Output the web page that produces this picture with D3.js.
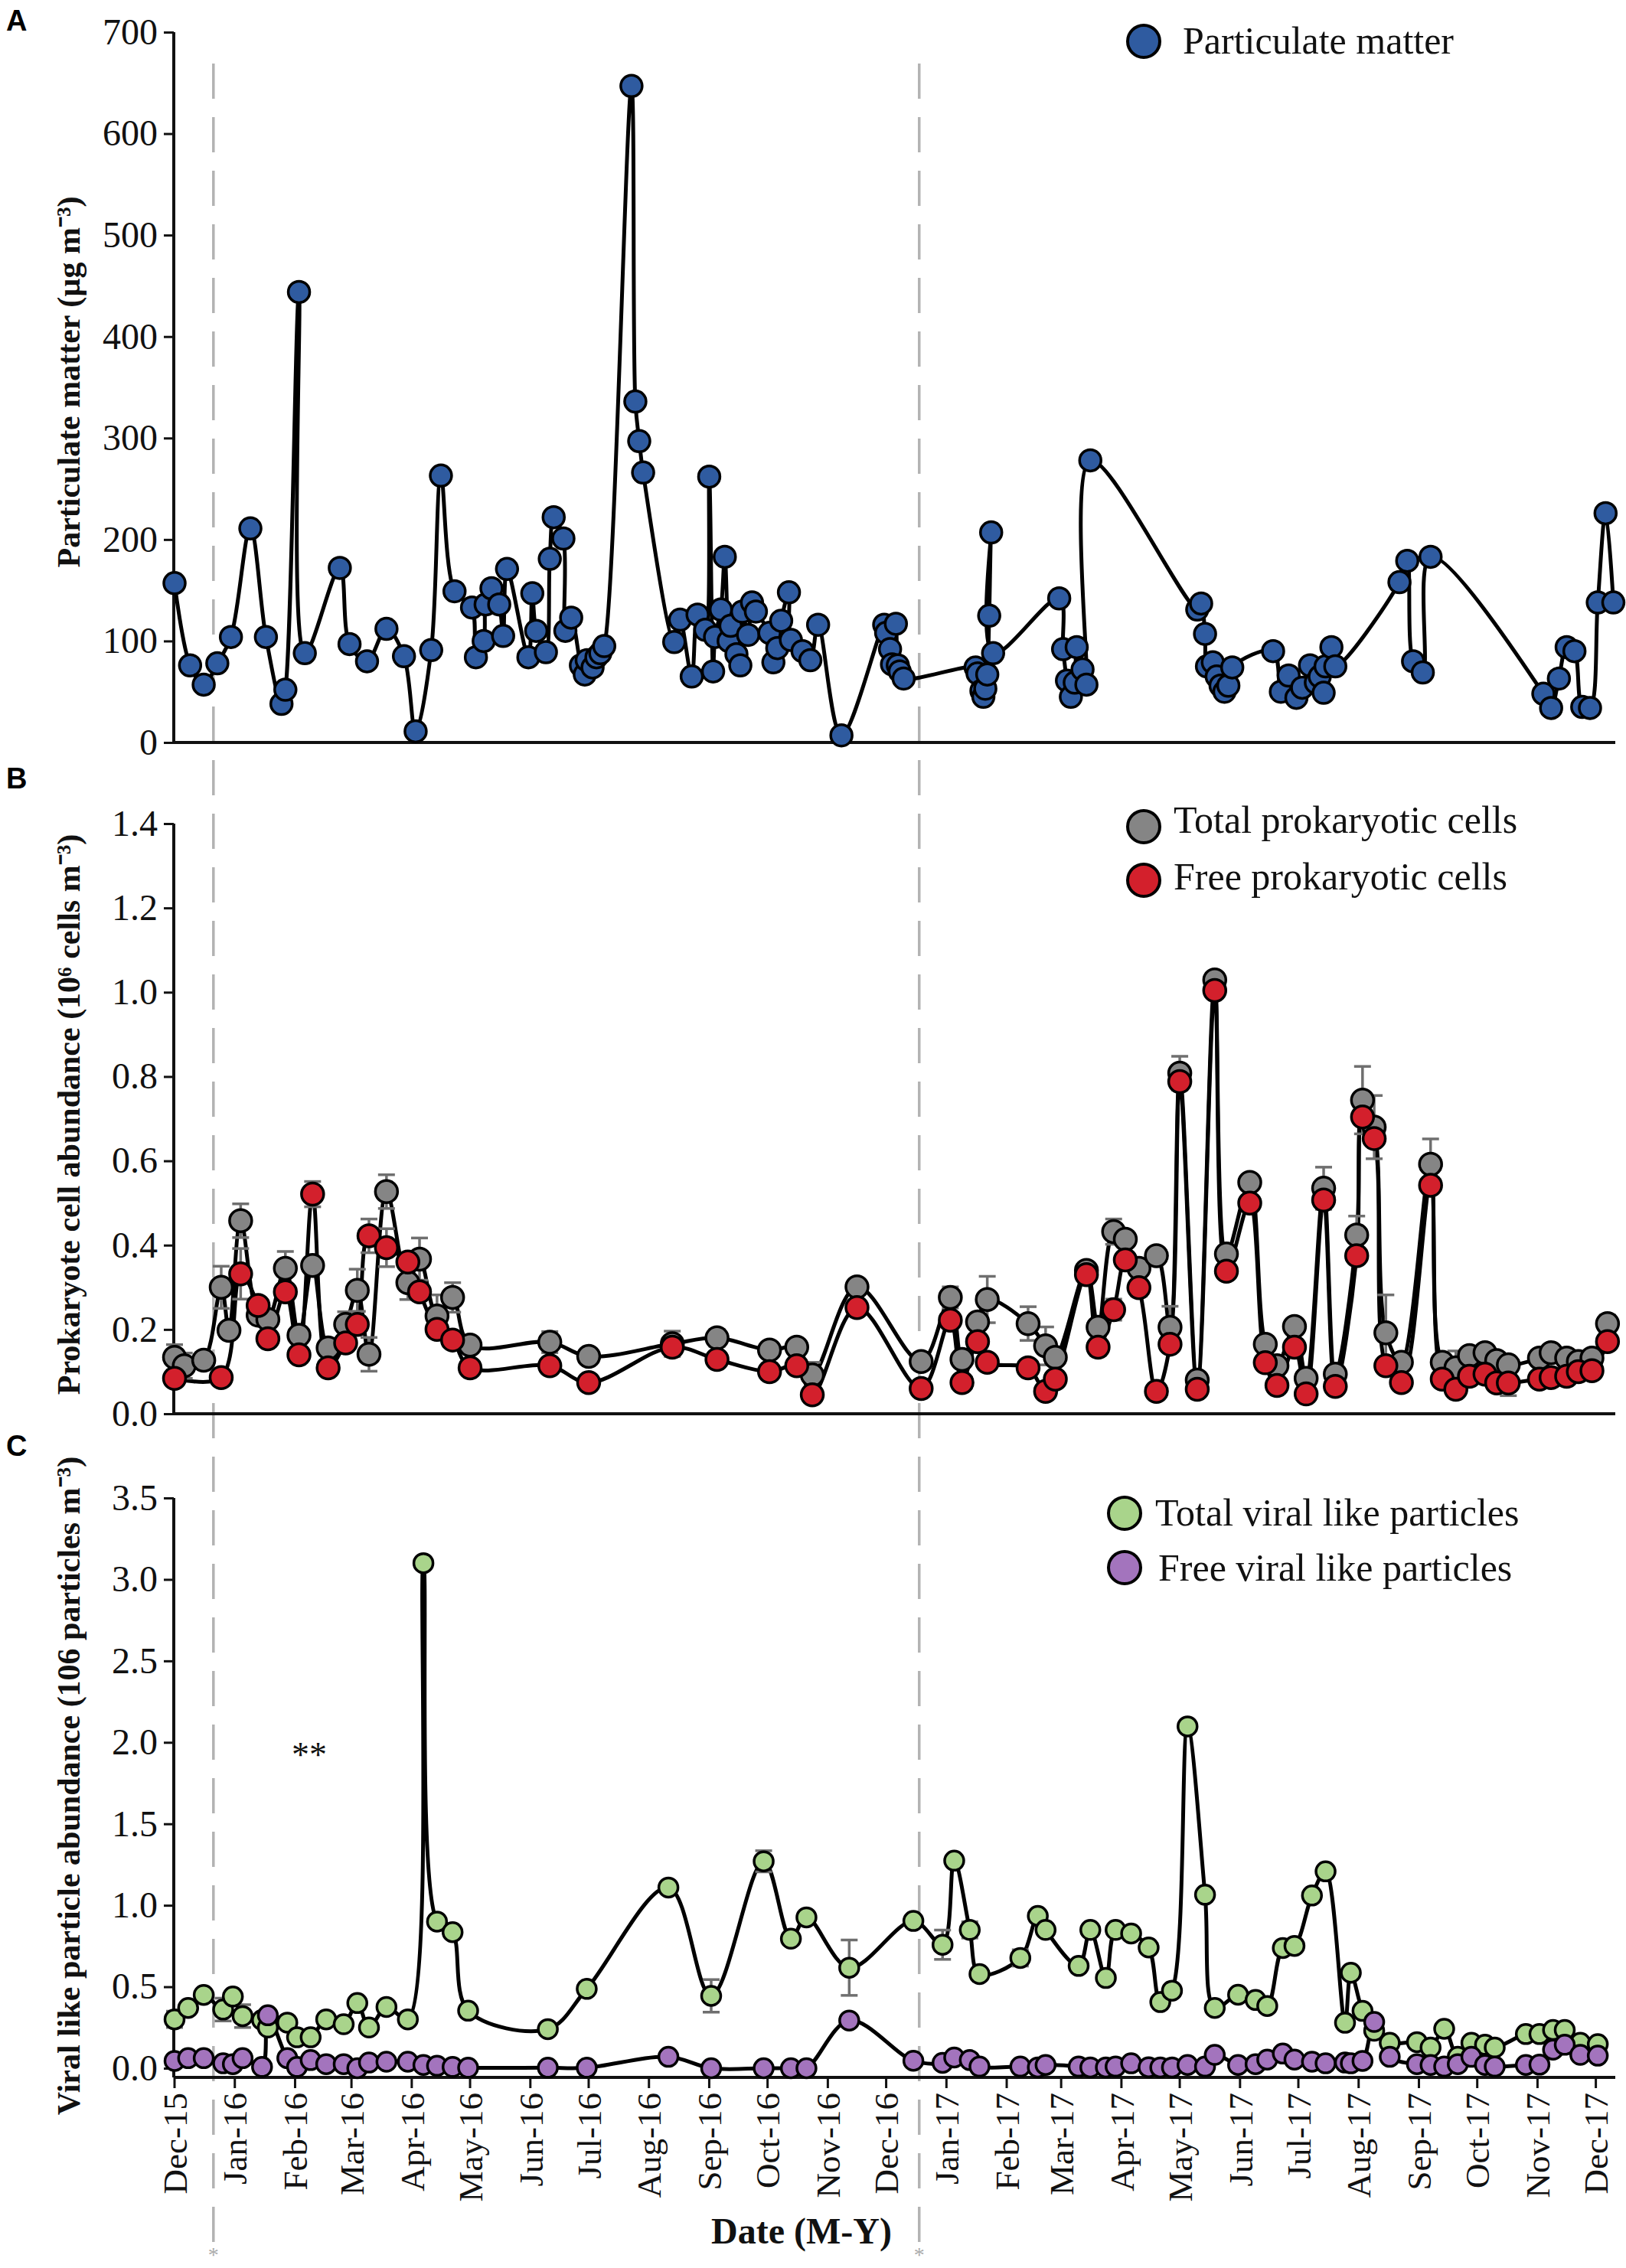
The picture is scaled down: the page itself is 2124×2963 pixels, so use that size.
<!DOCTYPE html>
<html>
<head>
<meta charset="utf-8">
<script src="https://cdn.jsdelivr.net/npm/d3@7"></script>
<style>
  body { margin: 0; background: #fff; }
</style>
</head>
<body>
<div id="chart"></div>
<script>
// ---- panel A : particulate matter (ug m-3)
const pmDates = ["2015-12-01","2015-12-09","2015-12-16","2015-12-23","2015-12-30","2016-01-09","2016-01-17","2016-01-25","2016-01-27","2016-02-03",
  "2016-02-06","2016-02-24","2016-02-29","2016-03-09","2016-03-19","2016-03-28","2016-04-03","2016-04-11","2016-04-16","2016-04-23",
  "2016-05-02","2016-05-04","2016-05-08","2016-05-09","2016-05-12","2016-05-16","2016-05-18","2016-05-20","2016-05-31","2016-06-02",
  "2016-06-04","2016-06-09","2016-06-11","2016-06-13","2016-06-18","2016-06-19","2016-06-22","2016-06-27","2016-06-29","2016-06-30",
  "2016-07-03","2016-07-05","2016-07-07","2016-07-09","2016-07-23","2016-07-25","2016-07-27","2016-07-29","2016-08-14","2016-08-17",
  "2016-08-23","2016-08-26","2016-08-30","2016-09-01","2016-09-03","2016-09-04","2016-09-07","2016-09-09","2016-09-11","2016-09-12",
  "2016-09-15","2016-09-17","2016-09-18","2016-09-21","2016-09-23","2016-09-25","2016-10-02","2016-10-04","2016-10-06","2016-10-08",
  "2016-10-12","2016-10-13","2016-10-19","2016-10-23","2016-10-27","2016-11-08","2016-11-30","2016-12-01","2016-12-03","2016-12-04",
  "2016-12-06","2016-12-07","2016-12-08","2016-12-10","2017-01-16","2017-01-17","2017-01-19","2017-01-20","2017-01-21","2017-01-22",
  "2017-01-23","2017-01-24","2017-01-25","2017-02-28","2017-03-02","2017-03-04","2017-03-06","2017-03-08","2017-03-09","2017-03-12",
  "2017-03-14","2017-03-16","2017-05-10","2017-05-12","2017-05-14","2017-05-15","2017-05-18","2017-05-20","2017-05-22","2017-05-24",
  "2017-05-26","2017-05-28","2017-06-18","2017-06-22","2017-06-26","2017-06-30","2017-07-03","2017-07-07","2017-07-10","2017-07-12",
  "2017-07-14","2017-07-15","2017-07-18","2017-07-20","2017-08-22","2017-08-26","2017-08-29","2017-09-03","2017-09-07","2017-11-04",
  "2017-11-08","2017-11-12","2017-11-16","2017-11-20","2017-11-24","2017-11-28","2017-12-02","2017-12-06","2017-12-10"];
const pmValues = [157,76,57,78,104,211,104,38,52,444,
  88,172,97,80,112,85,11,91,263,149,
  133,84,100,136,152,136,105,171,84,147,
  110,89,181,222,201,110,123,76,67,81,
  74,84,88,95,647,336,297,266,99,121,
  65,126,111,262,70,104,131,183,100,115,
  87,76,129,106,138,129,108,79,93,120,
  148,101,90,81,116,7,116,108,92,77,
  117,76,70,63,74,68,51,45,53,67,
  125,207,88,142,92,61,45,59,94,72,
  57,278,131,137,107,75,79,65,56,50,
  56,74,90,50,66,44,54,76,59,65,
  49,75,94,75,158,179,80,69,183,48,
  34,63,94,90,35,34,138,226,138];

// ---- panel B : prokaryotic cells (10^6 cells m-3)
const cellDates = ["2015-12-01","2015-12-06","2015-12-16","2015-12-25","2015-12-29","2016-01-04","2016-01-13","2016-01-18","2016-01-27","2016-02-03",
  "2016-02-10","2016-02-18","2016-02-27","2016-03-04","2016-03-10","2016-03-19","2016-03-30","2016-04-05","2016-04-14","2016-04-22",
  "2016-05-01","2016-06-11","2016-07-01","2016-08-13","2016-09-05","2016-10-02","2016-10-16","2016-10-24","2016-11-16","2016-12-19",
  "2017-01-03","2017-01-09","2017-01-17","2017-01-22","2017-02-12","2017-02-21","2017-02-26","2017-03-14","2017-03-20","2017-03-28",
  "2017-04-03","2017-04-10","2017-04-19","2017-04-26","2017-05-01","2017-05-10","2017-05-19","2017-05-25","2017-06-06","2017-06-14",
  "2017-06-20","2017-06-29","2017-07-05","2017-07-14","2017-07-20","2017-07-31","2017-08-03","2017-08-09","2017-08-15","2017-08-23",
  "2017-09-07","2017-09-13","2017-09-20","2017-09-27","2017-10-05","2017-10-11","2017-10-17","2017-11-02","2017-11-08","2017-11-16",
  "2017-11-22","2017-11-29","2017-12-07"];
const totalCells = [0.134,0.114,0.127,0.30,0.198,0.458,0.234,0.224,0.345,0.186,
  0.352,0.156,0.212,0.293,0.141,0.527,0.311,0.367,0.232,0.276,
  0.163,0.17,0.136,0.166,0.18,0.151,0.158,0.092,0.301,0.124,
  0.276,0.129,0.218,0.271,0.214,0.161,0.134,0.34,0.205,0.432,
  0.414,0.345,0.375,0.205,0.808,0.08,1.029,0.379,0.549,0.165,
  0.114,0.207,0.084,0.535,0.094,0.424,0.744,0.68,0.192,0.122,
  0.592,0.122,0.109,0.138,0.145,0.126,0.116,0.132,0.145,0.132,
  0.124,0.132,0.214];
const freeCells = [0.084,null,null,0.086,null,0.332,0.257,0.178,0.289,0.14,
  0.521,0.109,0.168,0.212,0.422,0.394,0.36,0.289,0.20,0.175,
  0.109,0.114,0.074,0.158,0.129,0.10,0.114,0.045,0.252,0.06,
  0.222,0.074,0.171,0.122,0.109,0.053,0.082,0.33,0.158,0.247,
  0.365,0.299,0.053,0.165,0.788,0.058,1.004,0.338,0.50,0.121,
  0.067,0.158,0.047,0.507,0.065,0.375,0.704,0.653,0.114,0.074,
  0.542,0.082,0.058,0.089,0.094,0.073,0.073,0.082,0.086,0.089,
  0.10,0.102,0.171];
const totalCellsErr = [0.03,0.03,0,0.05,0,0.04,0,0,0.04,0,
  0,0,0.03,0.05,0.04,0.04,0.04,0.05,0.05,0.035,
  0,0.025,0,0.03,0.02,0,0,0.03,0,0,
  0.025,0,0,0.055,0.04,0.045,0,0.015,0,0.03,
  0,0,0,0.05,0.04,0,0,0,0,0,
  0,0,0,0.05,0,0.045,0.08,0.075,0.09,0,
  0.06,0,0.04,0,0,0,0,0,0,0,
  0,0,0.02];
const freeCellsErr = [0,0,0,0,0,0.06,0,0,0,0,
  0.03,0,0,0,0.04,0.045,0,0,0,0,
  0,0,0,0,0,0,0,0,0,0,
  0,0,0,0,0,0,0,0,0.02,0.025,
  0,0.02,0,0,0,0,0,0,0,0,
  0,0,0,0,0,0,0,0,0,0,
  0,0,0,0,0,0,0.03,0,0,0,
  0,0,0];

// ---- panel C : viral like particles (10^6 particles m-3)
const vlpDates = ["2015-12-01","2015-12-08","2015-12-16","2015-12-26","2015-12-31","2016-01-05","2016-01-15","2016-01-18","2016-01-28","2016-02-02",
  "2016-02-09","2016-02-17","2016-02-26","2016-03-04","2016-03-10","2016-03-19","2016-03-30","2016-04-07","2016-04-14","2016-04-22",
  "2016-04-30","2016-06-10","2016-06-30","2016-08-11","2016-09-02","2016-09-29","2016-10-13","2016-10-21","2016-11-12","2016-12-15",
  "2016-12-30","2017-01-05","2017-01-13","2017-01-18","2017-02-08","2017-02-17","2017-02-21","2017-03-10","2017-03-16","2017-03-24",
  "2017-03-29","2017-04-06","2017-04-15","2017-04-21","2017-04-27","2017-05-05","2017-05-14","2017-05-19","2017-05-31","2017-06-09",
  "2017-06-15","2017-06-23","2017-06-29","2017-07-08","2017-07-15","2017-07-25","2017-07-28","2017-08-03","2017-08-09","2017-08-17",
  "2017-08-31","2017-09-07","2017-09-14","2017-09-21","2017-09-28","2017-10-05","2017-10-10","2017-10-26","2017-11-02","2017-11-09",
  "2017-11-15","2017-11-23","2017-12-02"];
const totalVlp = [0.30,0.37,0.45,0.36,0.44,0.32,0.296,0.25,0.28,0.19,
  0.19,0.30,0.27,0.40,0.25,0.376,0.30,3.10,0.90,0.835,
  0.353,0.24,0.487,1.109,0.444,1.27,0.795,0.926,0.617,0.904,
  0.758,1.274,0.849,0.578,0.677,0.935,0.849,0.628,0.849,0.554,
  0.849,0.827,0.741,0.406,0.476,2.098,1.065,0.37,0.451,0.419,
  0.382,0.738,0.751,1.06,1.208,0.279,0.586,0.352,0.23,0.156,
  0.16,0.127,0.242,0.07,0.156,0.144,0.127,0.21,0.21,0.235,
  0.235,0.156,0.148];
const freeVlp = [0.045,0.062,0.062,0.03,0.025,0.062,0.008,0.325,0.062,0.008,
  0.05,0.025,0.025,0,0.035,0.04,0.04,0.02,0.015,0.008,
  0.003,0.003,0.003,0.07,0,0,0,0,0.293,0.046,
  0.033,0.066,0.05,0.01,0.01,0.005,0.02,0.01,0.005,0.005,
  0.01,0.03,0.006,0.005,0.005,0.02,0.01,0.082,0.02,0.025,
  0.053,0.09,0.053,0.04,0.03,0.035,0.03,0.045,0.284,0.07,
  0.025,0.02,0.01,0.025,0.07,0.02,0.01,0.02,0.022,0.114,
  0.144,0.082,0.077];
const totalVlpErr = [0.05,0,0,0.07,0,0.07,0,0,0,0,
  0,0,0,0,0,0,0,0,0,0,
  0,0,0,0,0.1,0.065,0,0,0.17,0,
  0.09,0,0.05,0,0.05,0,0,0,0,0,
  0,0,0,0,0,0,0,0,0,0,
  0,0,0,0,0,0,0,0,0,0,
  0,0,0,0,0,0,0,0,0,0,
  0,0,0];

const monthTicks = ["2015-12-01","2016-01-01","2016-02-01","2016-03-01","2016-04-01","2016-05-01","2016-06-01","2016-07-01","2016-08-01",
  "2016-09-01","2016-10-01","2016-11-01","2016-12-01","2017-01-01","2017-02-01","2017-03-01","2017-04-01","2017-05-01","2017-06-01",
  "2017-07-01","2017-08-01","2017-09-01","2017-10-01","2017-11-01","2017-12-01"];
const markerDates = ["2015-12-21","2016-12-18"];

// ------------------------------------------------------------
const W = 2124, H = 2963;
const serif = "'Liberation Serif', 'Times New Roman', serif";
const sans = "'Liberation Sans', Arial, sans-serif";
const parse = d3.timeParse("%Y-%m-%d");

const svg = d3.select("#chart").append("svg")
    .attr("width", W).attr("height", H)
    .style("background", "#fff");

const x = d3.scaleTime()
    .domain([parse("2015-12-01"), parse("2017-12-11")])
    .range([228, 2110]);

const yA = d3.scaleLinear().domain([0, 700]).range([970, 42]);
const yB = d3.scaleLinear().domain([0, 1.4]).range([1847, 1076]);
const yC = d3.scaleLinear().domain([0, 3.5]).range([2702, 1957]);

// dashed season markers behind everything
markerDates.forEach(function (d) {
    let xm = x(parse(d));
    svg.append("line")
        .attr("x1", xm).attr("x2", xm).attr("y1", 83).attr("y2", 2932)
        .attr("stroke", "#b3b3b3").attr("stroke-width", 3.5)
        .attr("stroke-dasharray", "46,24");
    svg.append("text")
        .attr("x", xm).attr("y", 2955)
        .attr("text-anchor", "middle")
        .attr("font-family", serif).attr("font-size", 28)
        .attr("fill", "#aaa").text("*");
});

function yAxis(y, ticks, fmt, bottom) {
    let g = svg.append("g")
        .attr("transform", "translate(227,0)")
        .call(d3.axisLeft(y).tickValues(ticks).tickFormat(fmt).tickSizeOuter(0).tickSize(13).tickPadding(8));
    g.attr("font-family", serif).attr("font-size", 48);
    g.select(".domain").remove();
    g.append("line")
        .attr("x1", 0).attr("x2", 0)
        .attr("y1", y.range()[1]).attr("y2", bottom)
        .attr("stroke", "#111").attr("stroke-width", 4);
    g.selectAll(".tick line").attr("stroke", "#111").attr("stroke-width", 3);
    g.selectAll(".tick text").attr("fill", "#111");
}

function xLine(yPos) {
    svg.append("line")
        .attr("x1", 227).attr("x2", 2110)
        .attr("y1", yPos).attr("y2", yPos)
        .attr("stroke", "#111").attr("stroke-width", 4);
}

function makePoints(dates, vals, errs) {
    return dates.map(function (d, i) {
        return {date: parse(d), v: vals[i], e: errs ? errs[i] : 0};
    }).filter(function (p) { return p.v != null; });
}

function drawLine(y, pts) {
    let line = d3.line()
        .x(function (d) { return x(d.date); })
        .y(function (d) { return y(d.v); })
        .curve(d3.curveCatmullRom.alpha(0.5));
    svg.append("path")
        .datum(pts)
        .attr("d", line)
        .attr("fill", "none")
        .attr("stroke", "#000")
        .attr("stroke-width", 5)
        .attr("stroke-linejoin", "round");
}

function drawErrors(y, pts) {
    let g = svg.append("g")
        .attr("stroke", "#6f6f6f").attr("stroke-width", 3.5);
    pts.filter(function (d) { return d.e > 0; }).forEach(function (d) {
        let cx = x(d.date), y1 = y(d.v - d.e), y2 = y(d.v + d.e);
        g.append("line").attr("x1", cx).attr("x2", cx).attr("y1", y1).attr("y2", y2);
        g.append("line").attr("x1", cx - 11).attr("x2", cx + 11).attr("y1", y1).attr("y2", y1);
        g.append("line").attr("x1", cx - 11).attr("x2", cx + 11).attr("y1", y2).attr("y2", y2);
    });
}

function drawDots(y, pts, fill, r) {
    svg.append("g").selectAll("circle")
        .data(pts)
        .enter()
        .append("circle")
        .attr("cx", function (d) { return x(d.date); })
        .attr("cy", function (d) { return y(d.v); })
        .attr("r", r)
        .attr("fill", fill)
        .attr("stroke", "#000")
        .attr("stroke-width", 3.5);
}

function legendItem(cx, cy, fill, tx, ty, label) {
    svg.append("circle").attr("cx", cx).attr("cy", cy).attr("r", 21)
        .attr("fill", fill).attr("stroke", "#000").attr("stroke-width", 4);
    svg.append("text").attr("x", tx).attr("y", ty)
        .attr("font-family", serif).attr("font-size", 50).attr("fill", "#111")
        .text(label);
}

// rotated axis title, one text node (superscripts as unicode)
function yTitle(cx, cy, label) {
    svg.append("text")
        .attr("transform", `translate(${cx},${cy}) rotate(-90)`)
        .attr("text-anchor", "middle")
        .attr("font-family", serif).attr("font-size", 42).attr("font-weight", "bold")
        .attr("fill", "#111")
        .text(label);
}

function panelLabel(txt, yPos) {
    svg.append("text").attr("x", 8).attr("y", yPos)
        .attr("font-family", sans).attr("font-weight", "bold").attr("font-size", 38)
        .attr("fill", "#000").text(txt);
}

// ---- colours
const blue = "#2f5ba0", grey = "#858585", red = "#d3202c", green = "#a9d48b", purple = "#a374bd";

// ================= panel A
yAxis(yA, d3.range(0, 701, 100), d3.format("d"), 970);
xLine(970);
const pmPts = makePoints(pmDates, pmValues);
drawLine(yA, pmPts);
drawDots(yA, pmPts, blue, 14);
legendItem(1494, 54, blue, 1545, 70, "Particulate matter");
yTitle(104, 499, "Particulate matter  (\u00b5g m\u207b\u00b3)");
panelLabel("A", 40);

// ================= panel B
yAxis(yB, d3.range(0, 1.41, 0.2), d3.format(".1f"), 1847);
xLine(1847);
const totPts = makePoints(cellDates, totalCells, totalCellsErr);
const freePts = makePoints(cellDates, freeCells, freeCellsErr);
drawLine(yB, totPts);
drawLine(yB, freePts);
drawErrors(yB, totPts);
drawErrors(yB, freePts);
drawDots(yB, totPts, grey, 14.5);
drawDots(yB, freePts, red, 14.5);
legendItem(1494, 1080, grey, 1533, 1088, "Total prokaryotic cells");
legendItem(1494, 1150, red, 1533, 1162, "Free prokaryotic cells");
yTitle(104, 1456, "Prokaryote cell abundance (10\u2076 cells m\u207b\u00b3)");
panelLabel("B", 1030);

// ================= panel C
yAxis(yC, d3.range(0, 3.51, 0.5), d3.format(".1f"), 2714);
xLine(2714);
const totV = makePoints(vlpDates, totalVlp, totalVlpErr);
const freeV = makePoints(vlpDates, freeVlp);
drawLine(yC, totV);
drawLine(yC, freeV);
drawErrors(yC, totV);
drawDots(yC, totV, green, 12.5);
drawDots(yC, freeV, purple, 12.5);
legendItem(1469, 1977, green, 1509, 1993, "Total viral like particles");
legendItem(1469, 2048, purple, 1513, 2065, "Free viral like particles");
yTitle(104, 2333, "Viral like particle abundance (106 particles m\u207b\u00b3)");
panelLabel("C", 1902);

svg.append("text").attr("x", 404).attr("y", 2308)
    .attr("text-anchor", "middle")
    .attr("font-family", serif).attr("font-size", 46).attr("fill", "#111")
    .text("**");

// month ticks + rotated labels along the bottom axis
const xg = svg.append("g");
monthTicks.forEach(function (m) {
    let xm = x(parse(m));
    xg.append("line").attr("x1", xm).attr("x2", xm).attr("y1", 2714).attr("y2", 2728)
        .attr("stroke", "#111").attr("stroke-width", 3);
    xg.append("text")
        .attr("transform", `translate(${xm},2734) rotate(-90)`)
        .attr("text-anchor", "end")
        .attr("dy", "0.35em")
        .attr("font-family", serif).attr("font-size", 45).attr("fill", "#111")
        .text(d3.timeFormat("%b-%y")(parse(m)));
});

svg.append("text").attr("x", 1047).attr("y", 2931)
    .attr("text-anchor", "middle")
    .attr("font-family", serif).attr("font-size", 48).attr("font-weight", "bold")
    .attr("fill", "#111").text("Date (M-Y)");
</script>
</body>
</html>
